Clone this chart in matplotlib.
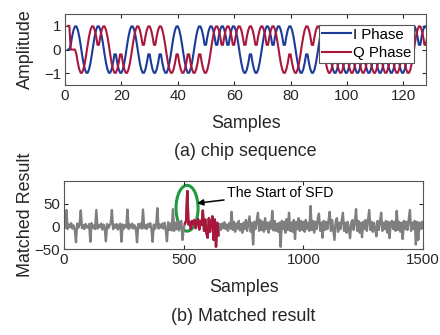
import numpy as np
import matplotlib
matplotlib.use('Agg')
import matplotlib.pyplot as plt
from matplotlib.patches import Ellipse

plt.rcParams['font.family'] = ['Liberation Sans', 'DejaVu Sans']

# (a) chip sequence: O-QPSK chips, half-sine pulse over 4 samples (2 points per sample)
i_chips = [1, -1, 1, -1, -1, 1, -1, -1, -1, 1, -1, 1, 1, 1, 1, -1,
           -1, 1, 1, 1, -1, -1, 1, -1, -1, -1, -1, -1, -1, -1, 1, 1]
q_chips = [-1, 1, 1, -1, -1, 1, 1, 1, -1, -1, -1, -1, 1, 1, 1, 1,
           1, 1, -1, -1, 1, 1, -1, -1, -1, -1, -1, -1, -1, -1, 1, 1]
pulse = [0.2, 0.56, 0.83, 0.98, 0.98, 0.83, 0.56, 0.2]
i_lead = [0, 0]
q_lead = [1, 1, 0, 0, 0, 0]
n_samples = 128

# (b) matched filter output, one value every 5 samples (0..1500)
step = 5
matched = [
    5, -3, 36, -6, 4, -2, 7, -5, 2, -8, -35, 6, -3, 4, 35, -4, 3, -6, 5, -2,
    -3, 5, -34, 7, -4, 2, -6, 36, -5, 3, -2, 6, -7, 4, -3, -33, 5, -4, 2, 6,
    36, -6, 4, -3, 5, -7, 2, 6, -34, 4, -5, 3, -2, 37, -6, 4, -3, 6, -5, 2,
    -4, -35, 5, -3, 6, -5, 37, -4, 3, -6, 5, -2, 7, -5, -34, 4, -6, 3, 40, -5,
    4, -3, 6, -5, 8, -7, -33, 9, -8, 6, -9, 38, -10, 8, -6, 11, -9, 7, 12, -30,
    -5, 6, 12, 78, 4, 10, -6, 12, 5, 14, -4, 9, 16, -7, 12, 3, 35, -10, 15, -15,
    -25, 18, -12, 10, 22, -30, 15, -45, 8, -20, 5, -8, 6, -4, 9, -6, 4, -10, 7, -5,
    32, -8, 10, -12, 6, -5, 12, -9, 5, -14, 8, -6, 14, -10, 6, 22, -12, 8, -40, 10,
    -6, 12, 30, -10, 14, -8, 10, -12, 18, -6, 8, -14, 10, -5, 34, -9, 12, -10, 6, -12,
    8, -45, 12, -6, 10, -14, 16, -8, 30, -10, 8, -12, 14, -28, 10, -6, 18, -10, 12, -8,
    10, -12, 14, -6, 8, -10, 45, -8, 12, -14, 10, -6, 16, 28, -10, 8, -25, 12, -8, 10,
    -6, 12, 32, -10, 14, -8, -30, 10, 18, -12, 8, -6, 12, 30, -10, 8, -14, 10, -6, -26,
    8, 14, -8, 10, 38, -10, 12, -14, 8, -24, 10, -6, 14, -10, 12, 36, -8, 10, -12, 8,
    -6, -22, 12, -8, 10, 30, -10, 8, -6, 12, -14, 10, -26, 8, 12, -6, 10, -10, 34, -8,
    10, -12, 8, -28, 12, -6, 10, -8, 14, 36, -10, 8, -6, 12, -40, 10, -30, 8, -6, 10,
    -4,
]
sfd_start, sfd_end = 505, 645

blue = '#1c3a98'
red = '#a9173d'
gray = '#7f7f7f'
green = '#1f9a3e'
tick_color = '#262626'


def style_axes(ax):
    ax.tick_params(direction='in', top=True, right=True, length=3,
                   labelsize=10.8, colors=tick_color, pad=3)
    for s in ax.spines.values():
        s.set_color('#555555')
        s.set_linewidth(0.8)


fig = plt.figure(figsize=(4.4, 3.35), dpi=100)

# ---- (a) ----
ax1 = fig.add_axes([0.148, 0.746, 0.82, 0.212])
i_wave = np.concatenate([i_lead, np.kron(i_chips, pulse)])[:2 * n_samples]
q_wave = np.concatenate([q_lead, np.kron(q_chips, pulse)])[:2 * n_samples]
x = 1 + np.arange(2 * n_samples) * 0.5
ax1.plot(x, i_wave, color=blue, lw=1.5, label='I Phase')
ax1.plot(x, q_wave, color=red, lw=1.5, label='Q Phase')
ax1.set_xlim(0, 128)
ax1.set_ylim(-1.5, 1.5)
ax1.set_xticks([0, 20, 40, 60, 80, 100, 120])
ax1.set_yticks([-1, 0, 1])
style_axes(ax1)
leg = ax1.legend(loc='upper right', bbox_to_anchor=(0.968, 0.85),
                 fontsize=10.8, frameon=True, fancybox=False,
                 edgecolor='#555555', framealpha=1, borderpad=0.2,
                 labelspacing=0.3, handlelength=1.9, handletextpad=0.15,
                 borderaxespad=0)
leg.get_frame().set_linewidth(0.8)

# ---- (b) ----
ax2 = fig.add_axes([0.1455, 0.2567, 0.816, 0.203])
xb = np.arange(len(matched)) * step
yb = np.array(matched)
ax2.plot(xb, yb, color=gray, lw=1.7)
sel = (xb >= sfd_start) & (xb <= sfd_end)
ax2.plot(xb[sel], yb[sel], color=red, lw=1.7)
ax2.set_xlim(0, 1500)
ax2.set_ylim(-50, 100)
ax2.set_xticks([0, 500, 1000, 1500])
ax2.set_yticks([-50, 0, 50])
style_axes(ax2)
ax2.add_patch(Ellipse((514, 40), 92, 101, fill=False, edgecolor=green, lw=2.2))
ax2.annotate('The Start of SFD', xy=(556, 51), xytext=(680, 73),
             ha='left', va='center', fontsize=10.2, color='black',
             arrowprops=dict(arrowstyle='-|>', color='black', lw=1.1,
                             mutation_scale=9, shrinkA=0, shrinkB=0))

# labels and captions
fig.text(0.5 * (0.148 + 0.968), 0.63, 'Samples', ha='center', va='center',
         fontsize=12.9, color=tick_color)
fig.text(0.5 * (0.148 + 0.968), 0.547, '(a) chip sequence', ha='center',
         va='center', fontsize=12.9, color=tick_color)
fig.text(0.058, 0.852, 'Amplitude', ha='center', va='center', rotation=90,
         fontsize=12.9, color=tick_color)
fig.text(0.5 * (0.1455 + 0.9614), 0.142, 'Samples', ha='center', va='center',
         fontsize=12.9, color=tick_color)
fig.text(0.5 * (0.1455 + 0.9614), 0.055, '(b) Matched result', ha='center',
         va='center', fontsize=12.9, color=tick_color)
fig.text(0.058, 0.36, 'Matched Result', ha='center', va='center', rotation=90,
         fontsize=12.9, color=tick_color)

fig.savefig('out.png', dpi=100)
